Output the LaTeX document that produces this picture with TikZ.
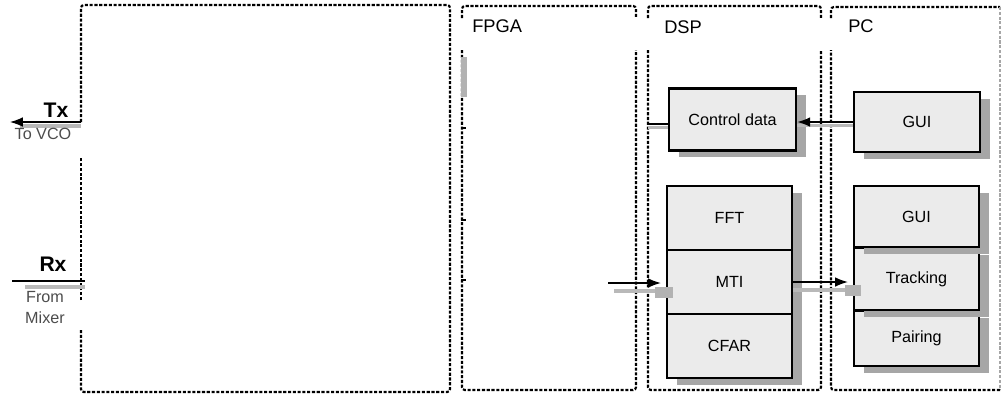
\documentclass[tikz,border=0pt]{standalone}
\usepackage{fontspec}
\setmainfont{Liberation Sans}
\usepackage{tikz}
\usetikzlibrary{arrows.meta, positioning, calc, shadows}
\tikzset{
	region/.style   ={draw=black, line width=1.5pt, dash pattern=on 2.2pt off 1.2pt, rounded corners=2pt},
	blk/.style      ={rectangle, draw=black, line width=1.9pt, fill=gray!16, minimum width=3.125cm, minimum height=1.6cm, align=center, font=\fontsize{11.5}{13}\selectfont, drop shadow={shadow xshift=0.24cm, shadow yshift=-0.17cm, fill=gray!70, opacity=1}},
	sig/.style      ={-{Latex[length=3.2mm, width=2.4mm]}, line width=0.9pt},
	wire/.style     ={line width=0.9pt},
	shade/.style    ={draw=gray!55, line width=2.2pt},
	hdr/.style      ={font=\fontsize{13}{15}\selectfont, anchor=west, inner sep=0pt},
	portlbl/.style  ={font=\bfseries\fontsize{15}{17}\selectfont, inner sep=0pt},
	sidelbl/.style  ={font=\fontsize{11.5}{13}\selectfont, text=gray!60!black, inner sep=0pt},
}
\begin{document}
\begin{tikzpicture}[x=0.025cm, y=-0.025cm]
	\useasboundingbox (0,0) rectangle (1003,397);
	% regions
	\draw[region] (81,122) -- (81,5) -- (450,5) -- (450,392) -- (81,392) -- (81,330);
	\draw[region] (81,300) -- (81,157);
	\draw[region] (462,18) -- (462,6) -- (636,6) -- (636,18);
	\draw[region] (462,50) -- (462,390) -- (636,390) -- (636,50);
	\draw[region] (648,18) -- (648,6) -- (821,6) -- (821,18);
	\draw[region] (648,50) -- (648,390) -- (821,390) -- (821,50);
	\draw[region] (831,18) -- (831,7) -- (1000,7);
	\draw[region, draw=gray!70] (1000,7) -- (1000,390);
	\draw[region] (1000,390) -- (831,390) -- (831,50);
	\node[hdr] (fpgalbl) at (472,26) {FPGA};
	\node[hdr] (dsplbl) at (664,27) {DSP};
	\node[hdr] (pclbl) at (848,26) {PC};
	% marks on the FPGA edge
	\fill[gray!60] (461,57) rectangle (467,97);
	\foreach \ty in {128,220,280}
		\draw[line width=1.5pt] (461,\ty) -- (466,\ty);
	% DSP blocks
	\node[blk, minimum width=3.175cm, minimum height=1.55cm] (ctrl) at (732.5,119.5) {Control data};
	\node[blk] (fft) at (729.5,218) {FFT};
	\node[blk] (mti) at (729.5,282) {MTI};
	\node[blk] (cfar) at (729.5,346) {CFAR};
	% PC blocks
	\node[blk, minimum width=3.15cm, minimum height=1.5cm] (guitop) at (917,122) {GUI};
	\node[blk, minimum height=1.375cm] (pairing) at (916.5,338.5) {Pairing};
	\node[blk, minimum height=1.55cm] (tracking) at (916.5,279) {Tracking};
	\node[blk, minimum height=1.525cm] (guimid) at (916.5,216.5) {GUI};
	% ports
	\coordinate (txport) at (81,122);
	\coordinate (txend) at (10,122);
	\coordinate (rxport) at (85,281);
	\coordinate (rxend) at (12,281);
	\draw[shade] ([yshift=-0.1cm]txport) -- ([yshift=-0.1cm,xshift=0.25cm]txend);
	\draw[sig] (txport) -- (txend);
	\draw[shade] ([yshift=-0.15cm]rxport) -- ([yshift=-0.15cm,xshift=0.32cm]rxend);
	\draw[wire] (rxend) -- (rxport);
	\node[portlbl] (txlbl) at (56,110) {Tx};
	\node[sidelbl] (vco) at (43,134) {To VCO};
	\node[portlbl] (rxlbl) at (53,264) {Rx};
	\node[sidelbl] (from) at (45,297) {From};
	\node[sidelbl] (mixer) at (45,318) {Mixer};
	% connectors
	\draw[shade] ([yshift=-0.08cm]guitop.west) -- ([yshift=-0.08cm]guitop.west -| ctrl.east);
	\draw[sig] (guitop.west) -- (guitop.west -| ctrl.east);
	\coordinate (dspin) at (648,124);
	\draw[shade] ([yshift=-0.08cm]dspin) -- ([yshift=-0.08cm]dspin -| ctrl.west);
	\draw[wire] (dspin) -- (dspin -| ctrl.west);
	\coordinate (mtisrc) at (608,283);
	\draw[shade] ([yshift=-0.2cm,xshift=0.15cm]mtisrc) -- ([yshift=-0.2cm]mtisrc -| mti.west);
	\fill[gray!60] (655,287) rectangle (673,298);
	\draw[sig] (mtisrc) -- ([xshift=-0.12cm]mtisrc -| mti.west);
	\draw[shade] ([yshift=-0.2cm]mti.east) -- ([yshift=-0.2cm]mti.east -| tracking.west);
	\fill[gray!60] (845,285) rectangle (861,296);
	\draw[sig] (mti.east) -- ([xshift=-0.12cm]mti.east -| tracking.west);
\end{tikzpicture}
\end{document}
